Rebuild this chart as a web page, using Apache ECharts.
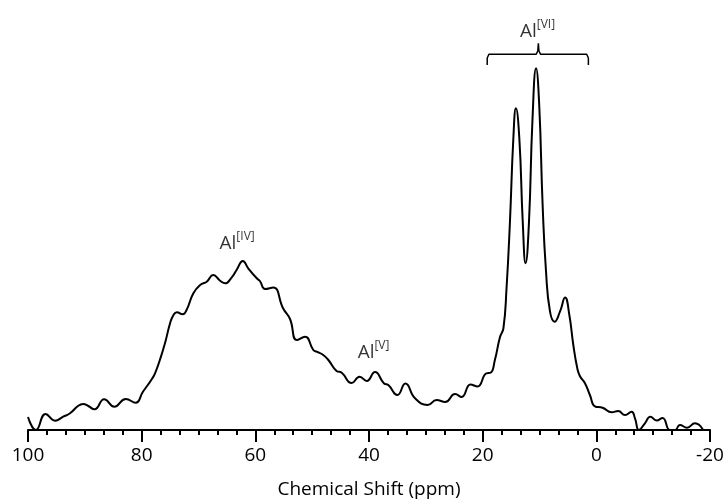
<!DOCTYPE html>
<html>
<head>
<meta charset="utf-8">
<script src="https://cdn.jsdelivr.net/npm/echarts@6/dist/echarts.min.js"></script>
<style>
html,body{margin:0;padding:0;background:#fff;}
#chart{width:726px;height:503px;}
</style>
</head>
<body>
<div id="chart"></div>
<script>
// Chemical shift (ppm) and intensity (arbitrary units)
var shiftPpm = [100.0,98.6,96.9,95.25,93.8,92.6,91.15,90.3,89.4,88.3,86.6,84.8,82.8,81.05,79.8,79.05,78.2,77.65,76.8,75.9,75.0,74.4,73.8,72.8,72.1,70.9,69.7,68.55,67.4,66.2,65.3,64.15,63.3,62.2,61.25,59.75,59.2,58.3,56.85,55.1,53.9,52.7,51.25,49.8,49.2,48.05,47.15,45.7,44.8,43.05,41.65,40.4,38.95,37.35,36.6,35.0,33.6,31.9,29.7,28.1,26.6,24.85,23.7,22.15,20.9,19.35,18.6,17.85,16.95,16.35,15.8,15.2,14.6,14.15,13.55,12.95,12.45,11.85,11.25,10.6,10.05,9.45,8.85,8.15,7.35,6.4,5.5,4.75,4.05,3.35,2.9,2.0,1.1,0.25,-1.1,-2.7,-3.85,-5.05,-6.2,-6.8,-7.5,-8.55,-9.5,-10.6,-11.65,-12.95,-13.85,-14.7,-15.95,-17.35,-18.8];
var intensity = [13,0,16,9.3,13.3,16.7,24.3,26,24,20.7,30.7,23.3,31,27.3,38,44,51,56.7,70,86.7,106.7,115,117.7,115.7,120,136.7,145,148.3,155,149.3,146.7,152.7,160,169,161.7,151.7,149,141,142.5,121.5,111,90,93.3,80,78.3,75,70,59,57.3,47,53.3,49,58,46.5,45,35,46.5,31.7,25,30,28,36,33,45.5,43.5,56.7,57.3,70,93,101.7,141.7,208.3,291.7,321.7,291.7,208.3,166.7,208.3,308.3,361.7,325,225,158.3,118.3,108.3,118.3,132.5,115,85,61.7,54,46.7,34.5,23.7,22.3,17.7,19,15,18.3,11.7,0,6.7,13.3,9.5,12,0,0,5,2.3,6.7,0];

// Axis ticks
var xMin = -20, xMax = 100, xStep = 20;

// Annotations (data coordinates)
var labelText = ['IV', 'V', 'VI'];
var labelPpm = [63.2, 39.2, 10.35];
var labelInt = [188, 79, 400];

// Bracket over the Al[VI] region (data coordinates)
var bracketPpm = [19.2, 19.2, 18.9, 10.6, 10.3, 10.2, 10.1, 9.8, 1.7, 1.4, 1.4];
var bracketInt = [365, 372, 375.7, 375.7, 379, 386.7, 379, 375.7, 375.7, 372, 365];

var FONT = 'Open Sans';
var chart = echarts.init(document.getElementById('chart'), null, {renderer: 'canvas'});

var spectrum = shiftPpm.map(function (p, i) { return [p, intensity[i]]; });
var bracket = bracketPpm.map(function (p, i) { return [p, bracketInt[i]]; });
var labels = labelText.map(function (t, i) { return {name: t, value: [labelPpm[i], labelInt[i]]}; });

chart.setOption({
  animation: false,
  backgroundColor: '#fff',
  grid: {left: 28, right: 16, top: 0, bottom: 73, containLabel: false, outerBoundsMode: 'none'},
  xAxis: {
    type: 'value',
    inverse: true,
    min: xMin, max: xMax, interval: xStep,
    name: 'Chemical Shift (ppm)',
    nameLocation: 'middle',
    nameGap: 50,
    nameTextStyle: {fontFamily: FONT, fontSize: 19, color: '#000'},
    axisLine: {show: true, onZero: false, lineStyle: {color: '#000', width: 2}},
    axisTick: {show: true, inside: false, length: 12, lineStyle: {color: '#000', width: 2}},
    minorTick: {show: true, splitNumber: 6, length: 5, lineStyle: {color: '#000', width: 2}},
    axisLabel: {fontFamily: FONT, fontSize: 19, color: '#000', margin: 16},
    splitLine: {show: false},
    minorSplitLine: {show: false}
  },
  yAxis: {
    type: 'value', min: 0, max: 430, show: false,
    splitLine: {show: false}
  },
  series: [
    {
      type: 'line',
      data: spectrum,
      showSymbol: false,
      symbol: 'none',
      smooth: 0.5,
      lineStyle: {color: '#000', width: 2},
      silent: true,
      z: 3
    },
    {
      type: 'line',
      data: bracket,
      symbol: 'none',
      smooth: false,
      lineStyle: {color: '#000', width: 1.5},
      silent: true
    },
    {
      type: 'scatter',
      data: labels,
      symbolSize: 0,
      silent: true,
      itemStyle: {color: '#000'},
      label: {
        show: true,
        position: 'inside',
        color: '#000',
        textBorderWidth: 0,
        formatter: function (p) { return '{a|Al}{s|[' + p.name + ']}'; },
        rich: {
          a: {fontFamily: FONT, fontSize: 19, color: '#000', textBorderWidth: 0, lineHeight: 22, verticalAlign: 'bottom'},
          s: {fontFamily: FONT, fontSize: 12, color: '#000', textBorderWidth: 0, lineHeight: 14, verticalAlign: 'top'}
        }
      }
    }
  ]
});
</script>
</body>
</html>
